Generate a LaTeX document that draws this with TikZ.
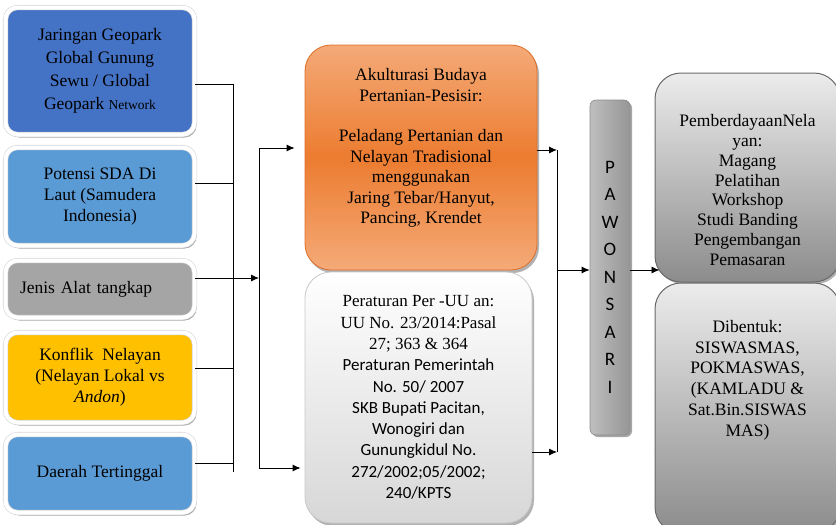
\documentclass[tikz,border=0pt]{standalone}
\usepackage{fontspec}
\setmainfont{Liberation Serif}
\newfontfamily\calibri{Carlito}
\usetikzlibrary{arrows.meta,shadows}
\tikzstyle{side}=[shape=rectangle, rounded corners=12pt, draw={rgb,255: red,214; green,214; blue,214}, double=white, double distance=4pt, line width=0.6pt, minimum width=189pt, align=center, drop shadow={shadow xshift=2pt, shadow yshift=-3pt, opacity=0.35, fill=black}, font=\fontsize{17.5}{21}\selectfont]
\tikzstyle{akul}=[shape=rectangle, rounded corners=26pt, draw={rgb,255: red,222; green,110; blue,40}, line width=0.8pt, top color={rgb,255: red,244; green,170; blue,120}, bottom color={rgb,255: red,244; green,170; blue,120}, middle color={rgb,255: red,236; green,124; blue,48}, drop shadow={shadow xshift=2pt, shadow yshift=-3pt, opacity=0.3, fill=black}]
\tikzstyle{atur}=[shape=rectangle, rounded corners=26pt, draw={rgb,255: red,200; green,200; blue,200}, line width=0.8pt, top color=white, bottom color={rgb,255: red,215; green,215; blue,215}, align=center, drop shadow={shadow xshift=2pt, shadow yshift=-3pt, opacity=0.3, fill=black}, font=\fontsize{17}{21.3}\selectfont]
\tikzstyle{bar}=[shape=rectangle, rounded corners=6pt, draw={rgb,255: red,140; green,140; blue,140}, line width=0.6pt, left color={rgb,255: red,190; green,190; blue,190}, right color={rgb,255: red,150; green,150; blue,150}, drop shadow={shadow xshift=2pt, shadow yshift=-2pt, opacity=0.35, fill=black}]
\tikzstyle{hasil}=[shape=rectangle, rounded corners=26pt, draw={rgb,255: red,105; green,105; blue,105}, line width=1pt, top color={rgb,255: red,236; green,236; blue,236}, bottom color={rgb,255: red,140; green,140; blue,140}, drop shadow={shadow xshift=2pt, shadow yshift=-2pt, opacity=0.3, fill=black}]
\tikzstyle{words}=[align=center, inner sep=0pt, font=\fontsize{17.5}{20.4}\selectfont]
\tikzstyle{ar}=[-{Latex[length=8pt,width=7pt]}, draw=black, line width=0.9pt]
\tikzstyle{ed}=[-, draw=black, line width=0.9pt]

\begin{document}
\begin{tikzpicture}[x=1pt, y=-1pt]
	\useasboundingbox (0,0) rectangle (836,525);
	\node [style=side, fill={rgb,255: red,68; green,114; blue,196}, minimum height=127pt, font=\fontsize{17.5}{23}\selectfont] (0) at (100,71) {Jaringan Geopark\\Global Gunung\\Sewu / Global\\Geopark {\fontsize{13.5}{16}\selectfont Network}};
	\node [style=side, fill={rgb,255: red,91; green,155; blue,213}, minimum height=98pt] (1) at (100,196.5) {Potensi SDA Di\\Laut (Samudera\\Indonesia)};
	\node [style=side, fill={rgb,255: red,165; green,165; blue,165}, minimum height=57pt, text width=160pt, align=left] (2) at (100,289) {Jenis Alat tangkap};
	\node [style=side, fill={rgb,255: red,255; green,192; blue,0}, minimum height=90pt] (3) at (100,377.5) {Konflik\ \ Nelayan\\(Nelayan Lokal vs\\\textit{Andon})};
	\node [style=side, fill={rgb,255: red,91; green,155; blue,213}, minimum height=78pt] (4) at (100,473.5) {Daerah Tertinggal};
	\node [style=akul, minimum width=232pt, minimum height=225pt] (5) at (421,157.5) {};
	\node [style=words] (10) at (421,148) {Akulturasi Budaya\\Pertanian-Pesisir:\\[20.4pt]Peladang Pertanian dan\\Nelayan Tradisional\\menggunakan\\Jaring Tebar/Hanyut,\\Pancing, Krendet};
	\node [style=atur, minimum width=227pt, minimum height=251pt] (6) at (418.5,397.5) {Peraturan Per -UU an:\\UU No. 23/2014:Pasal\\27; 363 \& 364\\{\calibri Peraturan Pemerintah}\\{\calibri No. 50/ 2007}\\{\calibri SKB Bupati Pacitan,}\\{\calibri Wonogiri dan}\\{\calibri Gunungkidul No.}\\{\calibri 272/2002;05/2002;}\\{\calibri 240/KPTS}};
	\node [style=bar, minimum width=40pt, minimum height=335pt] (7) at (610,267.5) {};
	\node [style=words, font=\calibri\fontsize{19}{27.5}\selectfont] (11) at (610,277) {P\\A\\W\\O\\N\\S\\A\\R\\I};
	\node [style=hasil, minimum width=185pt, minimum height=209pt] (8) at (747.5,177.5) {};
	\node [style=words, font=\fontsize{17.5}{19.8}\selectfont] (12) at (747.5,190) {PemberdayaanNela\\yan:\\Magang\\Pelatihan\\Workshop\\Studi Banding\\Pengembangan\\Pemasaran};
	\node [style=hasil, minimum width=185pt, minimum height=250pt] (9) at (747.5,408) {};
	\node [style=words, font=\fontsize{17.5}{20.8}\selectfont] (13) at (747.5,380) {Dibentuk:\\SISWASMAS,\\POKMASWAS,\\(KAMLADU \&\\Sat.Bin.SISWAS\\MAS)};
	\coordinate (b0) at (233,84);
	\coordinate (b1) at (233,183);
	\coordinate (b3) at (233,368);
	\coordinate (b4) at (233,463);
	\coordinate (b5) at (233,472);
	\coordinate (c0) at (259,148);
	\coordinate (c1) at (259,278);
	\coordinate (c2) at (259,468);
	\coordinate (d0) at (557,150);
	\coordinate (d1) at (557,270);
	\coordinate (d2) at (557,452);
	\draw [style=ed] (0.east |- b0) to (b0);
	\draw [style=ed] (1.east |- b1) to (b1);
	\draw [style=ed] (3.east |- b3) to (b3);
	\draw [style=ed] (4.east |- b4) to (b4);
	\draw [style=ed] (b0) to (b5);
	\draw [style=ar] (2.east |- c1) to (c1);
	\draw [style=ed] (c0) to (c2);
	\draw [style=ar, shorten >=10pt] (c0) to (5.west |- c0);
	\draw [style=ar, shorten >=4pt] (c2) to (6.west |- c2);
	\draw [style=ar] (5.east |- d0) to (d0);
	\draw [style=ar] (6.east |- d2) to (d2);
	\draw [style=ed] (d0) to (d2);
	\draw [style=ar] (d1) to (7.west |- d1);
	\draw [style=ar] (7.east |- d1) to ([xshift=5pt]8.west |- d1);
\end{tikzpicture}
\end{document}
